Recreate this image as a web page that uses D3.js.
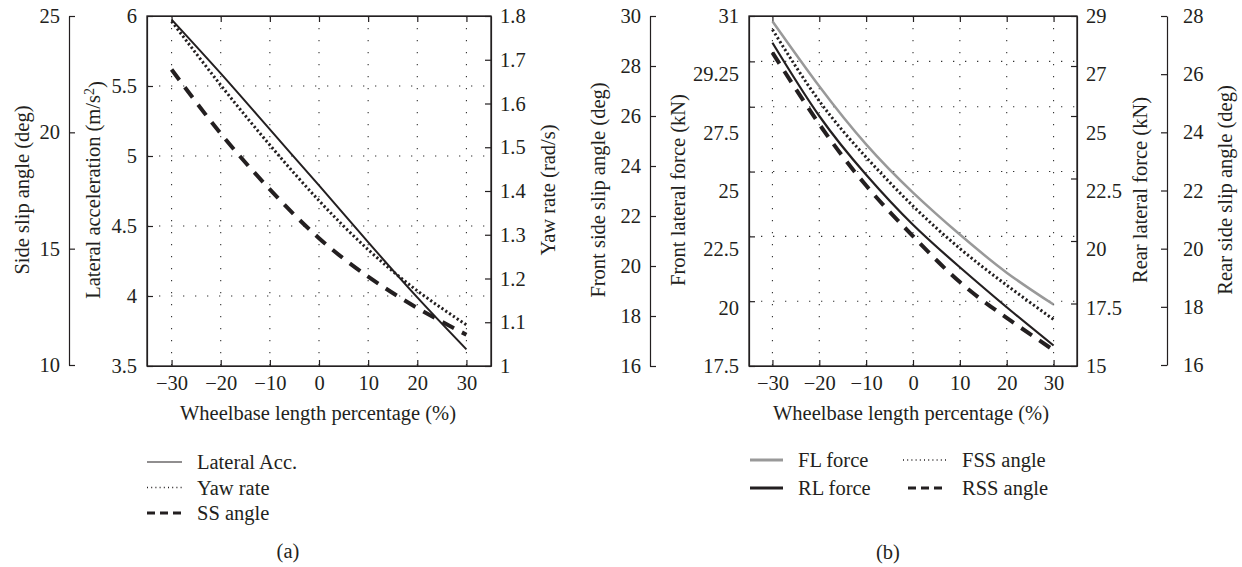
<!DOCTYPE html>
<html>
<head>
<meta charset="utf-8">
<script src="https://cdn.jsdelivr.net/npm/d3@7"></script>
<style>
  body { margin: 0; background: #fff; }
  svg { display: block; font-family: 'Liberation Serif', 'Times New Roman', serif; }
  text { fill: #231f20; font-size: 20.5px; }
</style>
</head>
<body>
<div id="chart"></div>
<script>
// x values (wheelbase length percentage)
var xVals = [-30, -20, -10, 0, 10, 20, 30];

// panel (a) series
var latAcc  = [5.975, 5.59, 5.19, 4.79, 4.385, 3.99, 3.619];
var yawRate = [1.788, 1.642, 1.505, 1.378, 1.266, 1.172, 1.094];
var ssAngle = [22.70, 19.95, 17.55, 15.45, 13.80, 12.45, 11.30];

// panel (b) series
var flForce  = [30.80, 28.29, 26.05, 24.19, 22.57, 21.10, 19.87];
var rlForce  = [27.93, 25.00, 22.65, 20.65, 18.95, 17.35, 15.82];
var fssAngle = [29.46, 26.60, 24.35, 22.40, 20.70, 19.23, 17.86];
var rssAngle = [26.74, 24.28, 22.17, 20.43, 18.85, 17.62, 16.51];

// tick values
var xTicks   = [-30, -20, -10, 0, 10, 20, 30];
var ssTicks  = [10, 15, 20, 25];
var latTicks = [3.5, 4, 4.5, 5, 5.5, 6];
var yawTicks = [1, 1.1, 1.2, 1.3, 1.4, 1.5, 1.6, 1.7, 1.8];
var fssTicks = [16, 18, 20, 22, 24, 26, 28, 30];
var flTicks  = [17.5, 20, 22.5, 25, 27.5, 29.25, 31];
var rlTicks  = [15, 17.5, 20, 22.5, 25, 27, 29];
var rssTicks = [16, 18, 20, 22, 24, 26, 28];

var legendA = ["Lateral Acc.", "Yaw rate", "SS angle"];
var legendB = ["FL force", "RL force", "FSS angle", "RSS angle"];

var ink = '#231f20';
var width = 1242, height = 567;
var plotTop = 16, plotBottom = 366;
var fontSize = '20.5px';

var svg = d3.select('#chart').append('svg')
    .attr('width', width)
    .attr('height', height);

var fmt = function(d) { return d < 0 ? '\u2212' + Math.abs(d) : String(d); };

function styleAxis(g) {
    g.selectAll('path, line').attr('stroke', ink).attr('stroke-width', 1.2);
    g.selectAll('text').attr('fill', ink).style('font-size', fontSize)
        .style('font-family', "'Liberation Serif', 'Times New Roman', serif");
}

function axisTitle(text, x, y) {
    svg.append('text')
        .attr('transform', 'translate(' + x + ',' + y + ') rotate(-90)')
        .attr('text-anchor', 'middle')
        .attr('dy', '0.35em')
        .text(text);
}

function drawBox(x0, x1, xScale, hLines, yScale) {
    var g = svg.append('g');
    // dotted grid
    g.selectAll('.vg').data(xTicks).enter().append('line')
        .attr('x1', function(d) { return xScale(d); })
        .attr('x2', function(d) { return xScale(d); })
        .attr('y1', plotTop).attr('y2', plotBottom)
        .attr('stroke', '#333').attr('stroke-width', 1.1)
        .attr('stroke-dasharray', '1.3,10.7');
    g.selectAll('.hg').data(hLines).enter().append('line')
        .attr('x1', x0).attr('x2', x1)
        .attr('y1', function(d) { return yScale(d); })
        .attr('y2', function(d) { return yScale(d); })
        .attr('stroke', '#333').attr('stroke-width', 1.1)
        .attr('stroke-dasharray', '1.3,10.7');
    svg.append('rect')
        .attr('x', x0).attr('y', plotTop)
        .attr('width', x1 - x0).attr('height', plotBottom - plotTop)
        .attr('fill', 'none').attr('stroke', ink).attr('stroke-width', 1.3);

    svg.append('g').attr('transform', 'translate(0,' + plotBottom + ')')
        .call(d3.axisBottom(xScale).tickValues(xTicks).tickSize(-6).tickSizeOuter(0)
            .tickPadding(9).tickFormat(fmt))
        .call(styleAxis);
    svg.append('g').attr('transform', 'translate(0,' + plotTop + ')')
        .call(d3.axisTop(xScale).tickValues(xTicks).tickSize(-6).tickSizeOuter(0).tickFormat(''))
        .call(styleAxis);
}

function addLine(xScale, yScale, values, color, w, dash) {
    var line = d3.line()
        .x(function(d, i) { return xScale(xVals[i]); })
        .y(function(d) { return yScale(d); })
        .curve(d3.curveNatural);
    svg.append('path')
        .datum(values)
        .attr('d', line)
        .attr('fill', 'none')
        .attr('stroke', color)
        .attr('stroke-width', w)
        .attr('stroke-dasharray', dash || null);
}

function legendSample(x1, x2, y, color, w, dash) {
    svg.append('line')
        .attr('x1', x1).attr('x2', x2).attr('y1', y).attr('y2', y)
        .attr('stroke', color).attr('stroke-width', w)
        .attr('stroke-dasharray', dash || null);
}

// ---------------- panel (a) ----------------
var xA = d3.scaleLinear().domain([-35, 35]).range([147, 491]);
var yLat = d3.scaleLinear().domain([3.5, 6]).range([plotBottom, plotTop]);
var yYaw = d3.scaleLinear().domain([1, 1.8]).range([plotBottom, plotTop]);
var ySS = d3.scaleLinear().domain([10, 25]).range([365, plotTop]);

drawBox(147, 491, xA, [4, 4.5, 5, 5.5], yLat);

svg.append('g').attr('transform', 'translate(147,0)')
    .call(d3.axisLeft(yLat).tickValues(latTicks).tickSize(-6).tickSizeOuter(0)
        .tickPadding(10).tickFormat(fmt))
    .call(styleAxis);
svg.append('g').attr('transform', 'translate(491,0)')
    .call(d3.axisRight(yYaw).tickValues(yawTicks).tickSize(-6).tickSizeOuter(0)
        .tickPadding(9).tickFormat(fmt))
    .call(styleAxis);
svg.append('g').attr('transform', 'translate(69,0)')
    .call(d3.axisLeft(ySS).tickValues(ssTicks).tickSize(-6).tickSizeOuter(0)
        .tickPadding(9).tickFormat(fmt))
    .call(styleAxis);

addLine(xA, yLat, latAcc, ink, 2);
addLine(xA, yYaw, yawRate, ink, 3, '2.2,2.4');
addLine(xA, ySS, ssAngle, ink, 4, '13,9');

axisTitle('Side slip angle (deg)', 22, 190);
var latTitle = svg.append('text')
    .attr('transform', 'translate(93,190) rotate(-90)')
    .attr('text-anchor', 'middle')
    .attr('dy', '0.35em')
    .text('Lateral acceleration (m/s');
latTitle.append('tspan').attr('dy', '-0.45em').style('font-size', '14px').text('2');
latTitle.append('tspan').attr('dy', '0.45em').text(')');
axisTitle('Yaw rate (rad/s)', 548, 190);

svg.append('text').attr('x', 318).attr('y', 413).attr('dy', '0.35em')
    .attr('text-anchor', 'middle').text('Wheelbase length percentage (%)');

var legA = [
    {c: ink, w: 1.2, dash: null},
    {c: ink, w: 1.3, dash: '1,3.2'},
    {c: ink, w: 3, dash: '8,5'}
];
legendA.forEach(function(name, i) {
    var y = 462 + i * 25.5;
    legendSample(147, 182, y, legA[i].c, legA[i].w, legA[i].dash);
    svg.append('text').attr('x', 197).attr('y', y).attr('dy', '0.35em').text(name);
});
svg.append('text').attr('x', 288).attr('y', 551).attr('dy', '0.35em')
    .attr('text-anchor', 'middle').text('(a)');

// ---------------- panel (b) ----------------
var xB = d3.scaleLinear().domain([-35, 35]).range([749, 1077]);
var yFL = d3.scaleLinear().domain([17.5, 31]).range([plotBottom, plotTop]);
var yRL = d3.scaleLinear().domain([15, 29]).range([plotBottom, plotTop]);
var yFSS = d3.scaleLinear().domain([16, 30]).range([plotBottom, plotTop]);
var yRSS = d3.scaleLinear().domain([16, 28]).range([365, plotTop]);
// tick labels are spaced evenly, independent of tick marks
var pFL = d3.scalePoint().domain(flTicks).range([plotBottom, plotTop]);
var pRL = d3.scalePoint().domain(rlTicks).range([plotBottom, plotTop]);

drawBox(749, 1077, xB, [20, 22.5, 25, 27.5, 29.25], yFL);

svg.append('g').attr('transform', 'translate(749,0)')
    .call(d3.axisLeft(yFL).tickValues(flTicks).tickSize(-6).tickSizeOuter(0).tickFormat(''))
    .call(styleAxis);
svg.append('g').attr('transform', 'translate(749,0)')
    .call(d3.axisLeft(pFL).tickSize(0).tickPadding(10).tickFormat(fmt))
    .call(styleAxis)
    .call(function(g) { g.select('.domain').remove(); });
svg.append('g').attr('transform', 'translate(1077,0)')
    .call(d3.axisRight(yRL).tickValues(rlTicks).tickSize(-6).tickSizeOuter(0).tickFormat(''))
    .call(styleAxis);
svg.append('g').attr('transform', 'translate(1077,0)')
    .call(d3.axisRight(pRL).tickSize(0).tickPadding(9).tickFormat(fmt))
    .call(styleAxis)
    .call(function(g) { g.select('.domain').remove(); });
svg.append('g').attr('transform', 'translate(650,0)')
    .call(d3.axisLeft(yFSS).tickValues(fssTicks).tickSize(-6).tickSizeOuter(0)
        .tickPadding(9).tickFormat(fmt))
    .call(styleAxis);
svg.append('g').attr('transform', 'translate(1167,0)')
    .call(d3.axisRight(yRSS).tickValues(rssTicks).tickSize(-6).tickSizeOuter(0)
        .tickPadding(16).tickFormat(fmt))
    .call(styleAxis);

addLine(xB, yFL, flForce, '#999', 2.5);
addLine(xB, yFSS, fssAngle, ink, 3, '2.2,2.4');
addLine(xB, yRL, rlForce, ink, 2.2);
addLine(xB, yRSS, rssAngle, ink, 4, '13,9');

axisTitle('Front side slip angle (deg)', 598, 190);
axisTitle('Front lateral force (kN)', 678, 190);
axisTitle('Rear lateral force (kN)', 1140, 190);
axisTitle('Rear side slip angle (deg)', 1225, 190);

svg.append('text').attr('x', 911).attr('y', 413).attr('dy', '0.35em')
    .attr('text-anchor', 'middle').text('Wheelbase length percentage (%)');

var legB = [
    {c: '#999', w: 3, dash: null, x: 750},
    {c: ink, w: 3, dash: null, x: 750},
    {c: ink, w: 1.3, dash: '1,3.2', x: 903},
    {c: ink, w: 3, dash: '8,5', x: 908}
];
legendB.forEach(function(name, i) {
    var y = 460 + (i % 2) * 28;
    var col = i < 2 ? 0 : 1;
    var xs = col === 0 ? 750 : legB[i].x;
    var xe = col === 0 ? 783 : 947;
    legendSample(xs, xe, y, legB[i].c, legB[i].w, legB[i].dash);
    svg.append('text').attr('x', col === 0 ? 798 : 962).attr('y', y)
        .attr('dy', '0.35em').text(name);
});
svg.append('text').attr('x', 888).attr('y', 552).attr('dy', '0.35em')
    .attr('text-anchor', 'middle').text('(b)');
</script>
</body>
</html>
